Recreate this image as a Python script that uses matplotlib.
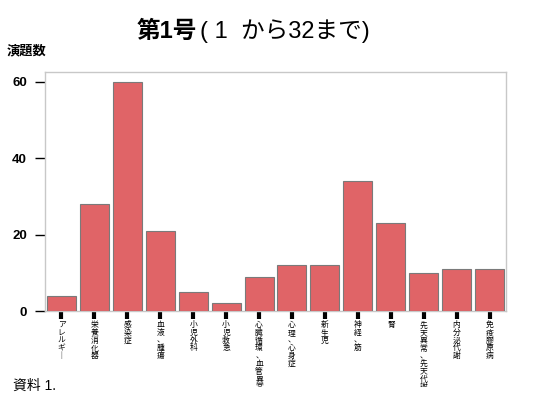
import matplotlib
matplotlib.use("Agg")
import matplotlib.pyplot as plt
from matplotlib.transforms import Bbox, TransformedBbox

categories = ["アレルギー", "栄養消化器", "感染症", "血液、腫瘍", "小児外科", "小児救急",
              "心臓循環、血管異常", "心理、心身症", "新生児", "神経、筋", "腎",
              "先天異常、先天代謝異常", "内分泌代謝", "免疫膠原病"]
values = [4, 28, 60, 21, 5, 2, 9, 12, 12, 34, 23, 10, 11, 11]
yticks = [0, 20, 40, 60]

W, H = 550, 408
fig = plt.figure(figsize=(W/100, H/100), dpi=100)
ax = fig.add_axes([45/W, 1-311/H, (506-45)/W, (311-72)/H])

fam = ['Liberation Sans', 'Noto Sans CJK JP', 'DejaVu Sans']
cjk = ['Noto Sans CJK JP', 'DejaVu Sans']

x = list(range(len(categories)))
ax.bar(x, values, width=0.88, color="#e06467", edgecolor="#7a7a7a", linewidth=0.8, zorder=3)
ax.set_xlim(-0.5, len(categories)-0.5)
ax.set_ylim(0, 62.5)

for s in ax.spines.values():
    s.set_color("#c8c8c8")
    s.set_linewidth(1)

ax.set_yticks(yticks)
ax.set_yticklabels([str(v) for v in yticks], fontfamily=fam, fontweight='bold', fontsize=9.5)
ax.tick_params(axis='y', length=7, width=1, color='black', pad=6)

ax.set_xticks(x)
ax.set_xticklabels([])
ax.tick_params(axis='x', length=6, width=3, color='black', direction='out')

clip = TransformedBbox(Bbox([[0, 1-387/H], [1, 1]]), fig.transFigure)
for i, lab in enumerate(categories):
    vert = "\n".join(lab.replace("ー", "｜"))
    t = ax.text(i, -2.7, vert, ha='center', va='top', fontsize=5.6,
                fontfamily=cjk, linespacing=0.95, clip_on=True)
    t.set_clip_box(clip)

fig.text(197/W, 1-31/H, "第1号", ha='right', va='center', fontsize=17,
         fontweight='bold', fontfamily=fam)
fig.text(200/W, 1-31/H, "( 1  から32まで)", ha='left', va='center', fontsize=17,
         fontfamily=fam)
fig.text(7/W, 1-50/H, "演題数", ha='left', va='center', fontsize=9.5,
         fontweight='bold', fontfamily=cjk)
fig.text(13/W, 1-386/H, "資料 1.", ha='left', va='center', fontsize=10,
         fontfamily=fam)

fig.savefig("out.png", dpi=100)
